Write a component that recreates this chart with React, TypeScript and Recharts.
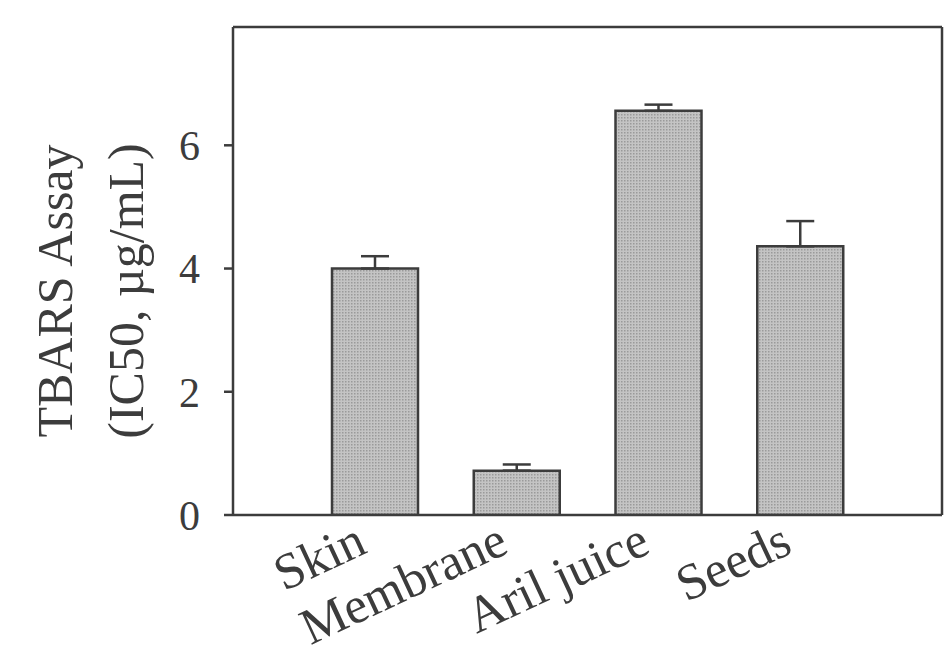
import { BarChart, Bar, XAxis, YAxis, ErrorBar } from "recharts";

const categories = ["Skin", "Membrane", "Aril juice", "Seeds"];
const ic50Values = [4.0, 0.72, 6.56, 4.36];
const upperErrors = [0.2, 0.1, 0.1, 0.41];
const yTicks = [0, 2, 4, 6];

const data = categories.map((name, i) => ({
  name,
  value: ic50Values[i],
  err: [0, upperErrors[i]],
}));

const INK = "#3c3c3c";
const FONT = "'Liberation Serif', 'Times New Roman', serif";

function CategoryTick({ x, y, payload }: any) {
  const tx = x - 6;
  const ty = y + 37;
  return (
    <text
      x={tx}
      y={ty}
      transform={`rotate(-25, ${tx}, ${ty})`}
      textAnchor="end"
      fontSize={51}
      fontFamily={FONT}
      fill={INK}
    >
      {payload.value}
    </text>
  );
}

function YTitle({ viewBox }: any) {
  const cy = viewBox.y + viewBox.height / 2 + 20;
  return (
    <g fontFamily={FONT} fill={INK} fontSize={50}>
      <text x={72} y={cy} transform={`rotate(-90, 72, ${cy})`} textAnchor="middle">
        TBARS Assay
      </text>
      <text x={143} y={cy} transform={`rotate(-90, 143, ${cy})`} textAnchor="middle">
        (IC50, µg/mL)
      </text>
    </g>
  );
}

export default function App() {
  return (
    <div style={{ position: "absolute", left: 0, top: 0, background: "#fff" }}>
      <BarChart
        width={944}
        height={654}
        data={data}
        margin={{ top: 26, right: 1, bottom: 39, left: 0 }}
        barCategoryGap={0}
      >
        <defs>
          <pattern id="stipple" width="3" height="3" patternUnits="userSpaceOnUse">
            <rect width="3" height="3" fill="#c4c4c4" />
            <rect width="1.5" height="1.5" fill="#9a9a9a" />
          </pattern>
        </defs>
        <XAxis
          dataKey="name"
          height={100}
          padding={{ left: 71, right: 71 }}
          axisLine={{ stroke: INK, strokeWidth: 2.5 }}
          tickLine={false}
          tickSize={0}
          tickMargin={0}
          interval={0}
          tick={<CategoryTick />}
        />
        <XAxis
          xAxisId="top"
          dataKey="name"
          orientation="top"
          height={1}
          axisLine={{ stroke: INK, strokeWidth: 2.5 }}
          tick={false}
          tickLine={false}
        />
        <YAxis
          width={233}
          domain={[0, 7.92]}
          ticks={yTicks}
          allowDataOverflow
          axisLine={{ stroke: INK, strokeWidth: 2.5 }}
          tickLine={{ stroke: INK, strokeWidth: 2.5 }}
          tickSize={9}
          tickMargin={24}
          tick={{ fontSize: 42, fontFamily: FONT, fill: INK }}
          label={<YTitle />}
        />
        <YAxis
          yAxisId="right"
          orientation="right"
          width={1}
          domain={[0, 7.92]}
          axisLine={{ stroke: INK, strokeWidth: 2.5 }}
          tick={false}
          tickLine={false}
        />
        <Bar
          dataKey="value"
          barSize={86}
          fill="url(#stipple)"
          stroke={INK}
          strokeWidth={2.5}
          isAnimationActive={false}
        >
          <ErrorBar
            dataKey="err"
            direction="y"
            width={14}
            stroke={INK}
            strokeWidth={2.5}
            isAnimationActive={false}
          />
        </Bar>
      </BarChart>
    </div>
  );
}
